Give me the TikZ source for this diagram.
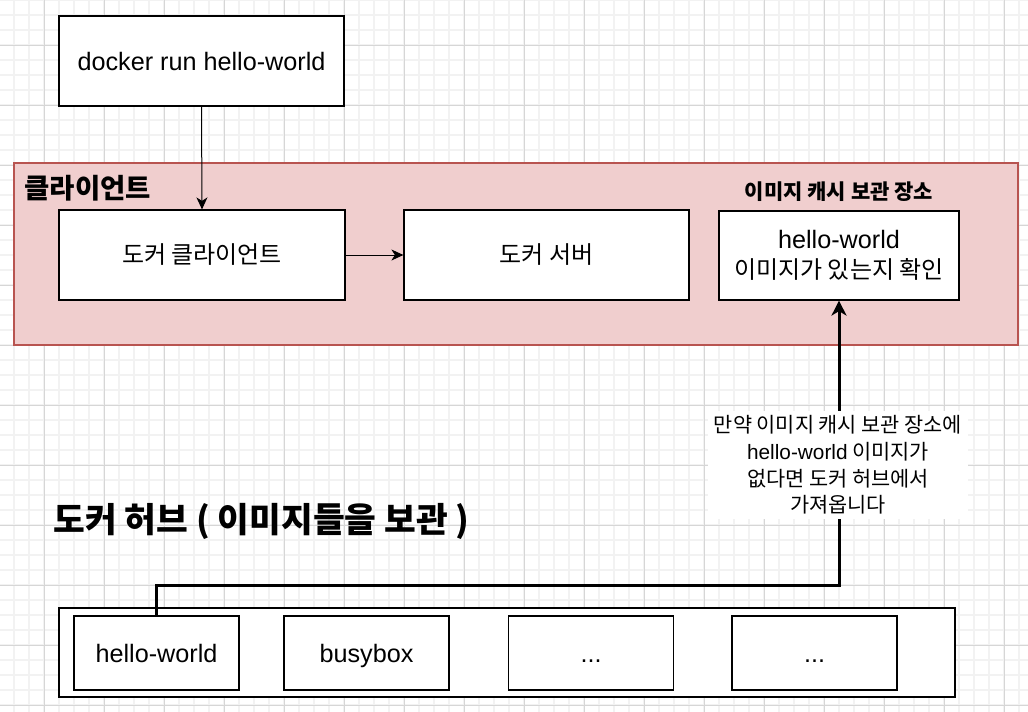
\documentclass[tikz,border=0pt]{standalone}
\usepackage{fontspec}
\setmainfont{Liberation Sans}
\newfontfamily\kr{Noto Sans CJK KR}
\usetikzlibrary{arrows.meta,positioning}
\definecolor{clientfill}{RGB}{240,206,206}
\definecolor{clientline}{RGB}{184,84,80}
\definecolor{gridminor}{RGB}{242,242,242}
\definecolor{gridmajor}{RGB}{214,214,214}

\begin{document}
\begin{tikzpicture}[x=1pt,y=-1pt,
    box/.style={draw, line width=1.2pt, fill=white, inner sep=0pt,
      minimum width=285pt, minimum height=90pt, align=center,
      font=\fontsize{25.2}{30}\selectfont},
    imgbox/.style={box, minimum width=165pt, minimum height=74pt,
      text height=21pt, text depth=3pt},
    title/.style={font=\kr\bfseries\fontsize{27.5}{32}\selectfont, anchor=west},
    arr/.style={line width=1pt, -{Stealth[length=12pt,width=11pt,inset=3.5pt]}},
    bigarr/.style={line width=3pt, -{Stealth[length=15pt,width=15pt,inset=4.5pt]}}
  ]
  \useasboundingbox[fill=white] (0,0) rectangle (1028,712);
  % grid
  \foreach \x in {14,29,...,1028} \draw[gridminor, line width=1.6pt] (\x,0) -- (\x,712);
  \foreach \y in {0,15,...,712} \draw[gridminor, line width=1.6pt] (0,\y) -- (1028,\y);
  \foreach \x in {44,104,...,1028} \draw[gridmajor, line width=1pt] (\x,0) -- (\x,712);
  \foreach \y in {45,105,...,712} \draw[gridmajor, line width=1pt] (0,\y) -- (1028,\y);

  % client area
  \node (client) [draw=clientline, fill=clientfill, line width=1.5pt, minimum width=1004pt, minimum height=182pt] at (516,254) {};
  \node (clienttitle) [title] at (21,188) {클라이언트};
  \node (cachetitle) [font=\kr\bfseries\fontsize{21}{24}\selectfont] at (839,192) {이미지 캐시 보관 장소};

  \node (cmd) [box] at (201.5,61) {docker run hello-world};
  \node (dclient) [box, minimum width=286pt, font=\fontsize{24}{30}\selectfont] at (202,255) {\kr 도커 클라이언트};
  \node (dserver) [box, font=\fontsize{24}{30}\selectfont] at (546.5,255) {\kr 도커 서버};
  \node (check) [box, minimum width=240pt, minimum height=89pt] at (839,255.5) {hello-world\\{\kr\fontsize{24}{30}\selectfont 이미지가 있는지 확인}};

  \draw [arr] (cmd.south) -- (dclient.north);
  \draw [arr] (dclient.east) -- (dserver.west);

  % hub
  \node (hubtitle) [title, font=\kr\bfseries\fontsize{34.5}{38}\selectfont] at (50,521) {도커 허브 ( 이미지들을 보관 )};
  \node (hub) [draw, line width=1.2pt, fill=white, minimum width=896pt, minimum height=89pt] at (507,652.5) {};
  \node (hw) [imgbox] at (156.5,653) {hello-world};
  \node (bb) [imgbox] at (366.5,653) {busybox};
  \node (etc1) [imgbox] at (591,653) {...};
  \node (etc2) [imgbox] at (814.5,653) {...};

  \coordinate (turn) at (156.5,585);
  \draw [bigarr] (hw.north) -- (turn) -| (check.south);
  \node (note) [fill=white, inner xsep=6pt, inner ysep=5pt, align=center, font=\kr\fontsize{20.8}{26.7}\selectfont] at (838,465)
    {만약 이미지 캐시 보관 장소에\\{\rmfamily hello-world} 이미지가\\없다면 도커 허브에서\\가져옵니다};
\end{tikzpicture}
\end{document}
